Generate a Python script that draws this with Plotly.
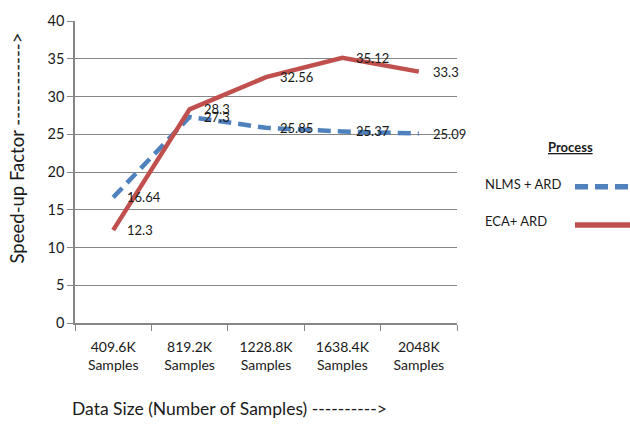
import plotly.graph_objects as go

# Data: speed-up factor for each data size
categories = ["409.6K<br>Samples", "819.2K<br>Samples", "1228.8K<br>Samples",
              "1638.4K<br>Samples", "2048K<br>Samples"]
nlms_ard = [16.64, 27.3, 25.85, 25.37, 25.09]
eca_ard = [12.3, 28.3, 32.56, 35.12, 33.3]
y_ticks = [0, 5, 10, 15, 20, 25, 30, 35, 40]

BLUE = "#4F81BD"
RED = "#C0504D"
FONT = "Lato"
TEXT = "#1a1a1a"

W, H = 630, 428
L, R, T, B = 75, 173, 15, 105
pw, ph = W - L - R, H - T - B


def px_x(x):
    return (x - L) / pw


def px_y(y):
    return 1 - (y - T) / ph


fig = go.Figure()
fig.add_trace(go.Scatter(x=categories, y=nlms_ard, mode="lines", name="NLMS + ARD",
                         line=dict(color=BLUE, width=4.5, dash="13px,7px"),
                         showlegend=False))
fig.add_trace(go.Scatter(x=categories, y=eca_ard, mode="lines", name="ECA+ ARD",
                         line=dict(color=RED, width=4.5), showlegend=False))

# Value labels to the right of each point
annotations = []
for series in (nlms_ard, eca_ard):
    for cat, v in zip(categories, series):
        annotations.append(dict(x=cat, y=v, xref="x", yref="y", text=f"{v:g}",
                                showarrow=False, xanchor="left", yanchor="middle",
                                xshift=12, font=dict(family=FONT, size=13, color=TEXT)))

# Legend drawn on the right: title, labels, and line samples
annotations += [
    dict(x=px_x(570), y=px_y(143), xref="paper", yref="paper", text="<b><u>Process</u></b>",
         showarrow=False, xanchor="center", yanchor="middle",
         font=dict(family=FONT, size=13, color=TEXT)),
    dict(x=px_x(483), y=px_y(181), xref="paper", yref="paper", text="NLMS + ARD",
         showarrow=False, xanchor="left", yanchor="middle",
         font=dict(family=FONT, size=13, color=TEXT)),
    dict(x=px_x(483), y=px_y(219), xref="paper", yref="paper", text="ECA+ ARD",
         showarrow=False, xanchor="left", yanchor="middle",
         font=dict(family=FONT, size=13, color=TEXT)),
    # axis titles
    dict(x=px_x(70), y=px_y(410), xref="paper", yref="paper",
         text="Data Size (Number of Samples) ---------->",
         showarrow=False, xanchor="left", yanchor="middle",
         font=dict(family=FONT, size=17.5, color=TEXT)),
    dict(x=px_x(17), y=px_y(145), xref="paper", yref="paper",
         text="Speed-up Factor ------------>", textangle=-90,
         showarrow=False, xanchor="center", yanchor="middle",
         font=dict(family=FONT, size=18.5, color=TEXT)),
]

shapes = [
    dict(type="line", xref="paper", yref="paper",
         x0=px_x(575), x1=px_x(632), y0=px_y(184), y1=px_y(184),
         line=dict(color=BLUE, width=5.5, dash="13px,7px")),
    dict(type="line", xref="paper", yref="paper",
         x0=px_x(575), x1=px_x(632), y0=px_y(223), y1=px_y(223),
         line=dict(color=RED, width=5.5)),
]

fig.update_layout(
    width=W, height=H,
    margin=dict(l=L, r=R, t=T, b=B),
    paper_bgcolor="white", plot_bgcolor="white",
    font=dict(family=FONT, color=TEXT),
    annotations=annotations,
    shapes=shapes,
    xaxis=dict(
        type="category", tickson="boundaries", ticks="outside", ticklen=6,
        tickcolor="#868686", showline=True, linecolor="#868686", linewidth=1.5,
        showgrid=False, tickfont=dict(family=FONT, size=14, color=TEXT),
        ticklabelstandoff=10, range=[-0.5, 4.5],
    ),
    yaxis=dict(
        range=[0, 40], tickvals=y_ticks, ticks="outside", ticklen=6,
        tickcolor="#868686", showline=True, linecolor="#868686", linewidth=1.5,
        showgrid=True, gridcolor="#868686", gridwidth=1.3, zeroline=False,
        tickfont=dict(family=FONT, size=14.5, color=TEXT),
    ),
)

fig.write_html("out.html")
